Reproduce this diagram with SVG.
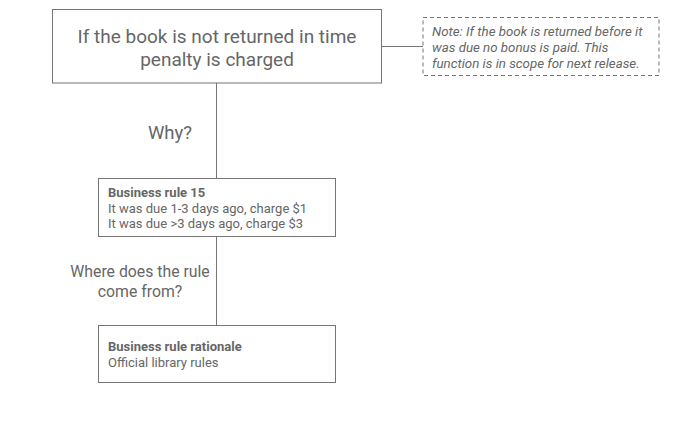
<svg xmlns="http://www.w3.org/2000/svg" width="682" height="422" viewBox="0 0 682 422">
<style>
.box{fill:#fff;stroke:#757575;stroke-width:1}
.note{fill:#fff;stroke:#757575;stroke-width:1;stroke-dasharray:4,3}
.line{stroke:#757575;stroke-width:1;fill:none}
text{font-family:Roboto,"Liberation Sans",sans-serif;fill:#666}
.t1{font-size:19px;text-anchor:middle}
.why{font-size:18.5px;text-anchor:middle}
.lab{font-size:15.8px;text-anchor:middle}
.n{font-size:13.3px;font-style:italic}
.b{font-size:13px}
.bb{font-size:13px;font-weight:bold}
</style>
<rect width="682" height="422" fill="#fff"/>
<g id="connectors">
<line class="line" x1="216.5" y1="83" x2="216.5" y2="178"/>
<line class="line" x1="216.5" y1="236" x2="216.5" y2="325"/>
<line class="line" x1="381" y1="46.5" x2="423" y2="46.5"/>
</g>
<g id="n1">
<rect class="box" x="52.5" y="9.5" width="329" height="73.5"/>
<text class="t1" x="217" y="43">If the book is not returned in time</text>
<text class="t1" x="217" y="65.5">penalty is charged</text>
</g>
<g id="note">
<rect class="note" x="423" y="17.5" width="236" height="58"/>
<text class="n" x="432" y="35.5">Note: If the book is returned before it</text>
<text class="n" x="432" y="51.5">was due no bonus is paid. This</text>
<text class="n" x="432" y="67.5">function is in scope for next release.</text>
</g>
<g id="why">
<text class="why" x="170" y="139">Why?</text>
</g>
<g id="n2">
<rect class="box" x="98.5" y="178.5" width="237" height="58"/>
<text class="bb" x="108" y="197">Business rule 15</text>
<text class="b" x="108" y="212.5">It was due 1-3 days ago, charge $1</text>
<text class="b" x="108" y="228">It was due &gt;3 days ago, charge $3</text>
</g>
<g id="where">
<text class="lab" x="140" y="277">Where does the rule</text>
<text class="lab" x="140" y="297">come from?</text>
</g>
<g id="n3">
<rect class="box" x="98.5" y="325.5" width="237" height="57"/>
<text class="bb" x="108" y="351">Business rule rationale</text>
<text class="b" x="108" y="366.5">Official library rules</text>
</g>
</svg>
